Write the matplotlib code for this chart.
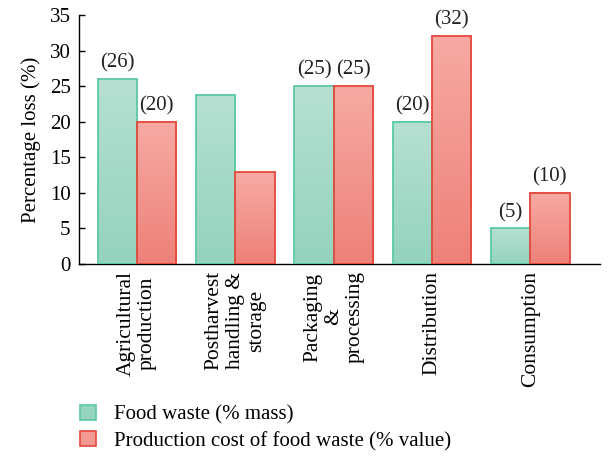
import matplotlib
matplotlib.use('Agg')
import matplotlib.pyplot as plt
import numpy as np
from matplotlib.colors import LinearSegmentedColormap
from matplotlib.patches import Patch

stages = ["Agricultural\nproduction", "Postharvest\nhandling &\nstorage",
          "Packaging\n&\nprocessing", "Distribution", "Consumption"]
food_waste = [26, 23.8, 25, 20, 5]
production_cost = [20, 12.9, 25, 32, 10]
waste_labels = ["(26)", None, "(25)", "(20)", "(5)"]
cost_labels = ["(20)", None, "(25)", "(32)", "(10)"]
series_names = ["Food waste (% mass)", "Production cost of food waste (% value)"]

plt.rcParams['font.family'] = ['Liberation Serif', 'DejaVu Serif']

green_top, green_bot, green_edge = '#b6e0d2', '#94d3bd', '#5cc9a3'
red_top, red_bot, red_edge = '#f6aaa3', '#ee8179', '#e5483c'

fig = plt.figure(figsize=(6.09, 4.57), dpi=100)
ax = fig.add_axes([79 / 609, 1 - 264 / 457, 521 / 609, 249 / 457])

x = np.arange(len(stages))
width = 0.4


def gradient_bars(xs, heights, top, bot, edge):
    # outline via bar(), vertical colour ramp via imshow inside each bar
    cmap = LinearSegmentedColormap.from_list('g', [bot, top])
    grad = np.linspace(1, 0, 100).reshape(-1, 1)
    bars = ax.bar(xs, heights, width, facecolor='none', edgecolor=edge,
                  linewidth=1.3, zorder=3)
    for b in bars:
        x0, h, w = b.get_x(), b.get_height(), b.get_width()
        ax.imshow(grad, extent=[x0, x0 + w, 0, h], aspect='auto', cmap=cmap,
                  vmin=0, vmax=1, zorder=2, interpolation='bilinear')
    return bars


gradient_bars(x - width / 2, food_waste, green_top, green_bot, green_edge)
gradient_bars(x + width / 2, production_cost, red_top, red_bot, red_edge)

for xi, v, lab in zip(x - width / 2, food_waste, waste_labels):
    if lab:
        ax.text(xi, v + 0.9, lab, ha='center', va='bottom', fontsize=15, color='#222222')
for xi, v, lab in zip(x + width / 2, production_cost, cost_labels):
    if lab:
        ax.text(xi, v + 0.9, lab, ha='center', va='bottom', fontsize=15, color='#222222')

ax.set_xlim(-0.59, 4.71)
ax.set_ylim(0, 35)
ax.set_yticks(range(0, 36, 5))
ax.set_xticks(x)
ax.set_xticklabels(stages, rotation=90, ha='center', va='top',
                   multialignment='center', fontsize=15.5, linespacing=1.15)
ax.tick_params(axis='x', length=0, pad=5)
ax.tick_params(axis='y', direction='in', length=4, width=1, labelsize=15, pad=6)
ax.set_ylabel('Percentage loss (%)', fontsize=15, labelpad=6)

for s in ['top', 'right']:
    ax.spines[s].set_visible(False)
ax.spines['left'].set_linewidth(1.0)
ax.spines['bottom'].set_linewidth(1.0)

handles = [Patch(facecolor=green_bot, edgecolor=green_edge, linewidth=1.2),
           Patch(facecolor='#f29a92', edgecolor=red_edge, linewidth=1.2)]
fig.legend(handles, series_names, loc='upper left', bbox_to_anchor=(80 / 609, 1 - 405 / 457),
           frameon=False, fontsize=15, handlelength=0.75, handleheight=0.75,
           handletextpad=0.9, labelspacing=0.3, borderaxespad=0, borderpad=0)

fig.savefig('out.png', dpi=100)
